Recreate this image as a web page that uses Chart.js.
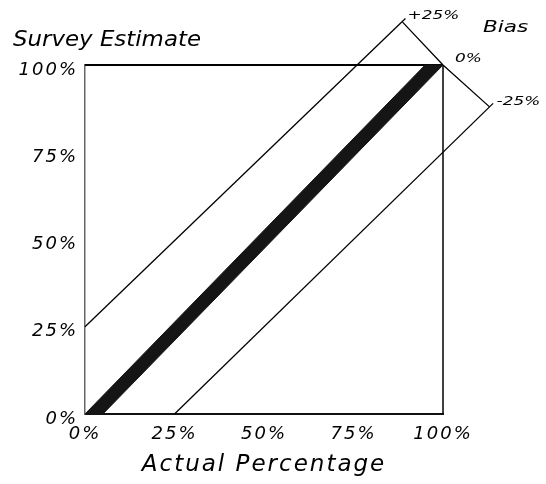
<!DOCTYPE html>
<html>
<head>
<meta charset="utf-8">
<script src="https://cdn.jsdelivr.net/npm/chart.js@4.4.1/dist/chart.umd.min.js"></script>
<style>
  html, body { margin: 0; padding: 0; background: #fff; }
  canvas { display: block; }
</style>
</head>
<body>
<canvas id="chart" width="546" height="484"></canvas>
<script>
// axis ticks (both axes are 0..100 %)
var tickValues = [0, 25, 50, 75, 100];
var tickLabels = ['0%', '25%', '50%', '75%', '100%'];

// thick "no bias" band, corners of the shape
var bandX = [0, 5, 100, 95, 0];
var bandY = [0, 0, 100, 100, 0];

// +25% and -25% bias lines (they stop a bit past the cross line)
var plusX = [0, 89.5];
var plusY = [25, 113.3];
var minusX = [25, 114];
var minusY = [0, 89];

// the cross line at top right, with its labels
// (kept right to left, so chart.js does not drop the point past the axis max)
var crossX = [113, 100, 88.7];
var crossY = [88, 100, 112.3];
var biasLabels = ['-25%', '0%', '+25%'];

function pts(xs, ys) {
  return xs.map((x, i) => ({ x: x, y: ys[i] }));
}

var FONT = 'DejaVu Sans';

// spacing out the letters, the original lettering is very wide
var spacing = {
  id: 'spacing',
  beforeDraw(chart) { chart.ctx.letterSpacing = '2px'; }
};

// top and right side of the box
var frame = {
  id: 'frame',
  beforeDatasetsDraw(chart) {
    var ctx = chart.ctx, a = chart.chartArea;
    ctx.save();
    ctx.strokeStyle = '#000';
    ctx.lineWidth = 2;
    ctx.beginPath();
    ctx.moveTo(a.left, a.top);
    ctx.lineTo(a.right, a.top);
    ctx.stroke();
    ctx.lineWidth = 1.5;
    ctx.beginPath();
    ctx.moveTo(a.right, a.top);
    ctx.lineTo(a.right, a.bottom);
    ctx.stroke();
    ctx.restore();
  }
};

// text stretched sideways, like the wide lettering of the original
function wideText(ctx, txt, x, y, sx) {
  ctx.save();
  ctx.translate(x, y);
  ctx.scale(sx, 1);
  ctx.fillText(txt, 0, 0);
  ctx.restore();
}

// free texts: y title, "Bias" and the labels on the cross line
var texts = {
  id: 'texts',
  afterDraw(chart) {
    var ctx = chart.ctx, a = chart.chartArea;
    var sx = chart.scales.x, sy = chart.scales.y;
    ctx.save();
    ctx.fillStyle = '#000';
    ctx.textAlign = 'left';
    ctx.textBaseline = 'middle';
    ctx.letterSpacing = '0px';

    ctx.font = 'italic 21px "' + FONT + '"';
    wideText(ctx, 'Survey Estimate', 13, a.top - 24, 1.09);

    ctx.font = 'italic 16px "' + FONT + '"';
    wideText(ctx, 'Bias', a.right + 40, 28, 1.35);

    ctx.font = 'italic 13px "' + FONT + '"';
    var offs = [[7, -5], [12, -6], [5, -6]];
    biasLabels.forEach((lbl, i) => {
      var px = sx.getPixelForValue(crossX[i]);
      var py = sy.getPixelForValue(crossY[i]);
      wideText(ctx, lbl, px + offs[i][0], py + offs[i][1], 1.3);
    });
    ctx.restore();
  }
};

var lineDs = (xs, ys) => ({
  data: pts(xs, ys),
  showLine: true,
  borderColor: '#000',
  borderWidth: 1.3,
  pointRadius: 0,
  fill: false,
  clip: false
});

var tickFont = { family: FONT, size: 18, style: 'italic' };

new Chart(document.getElementById('chart'), {
  type: 'scatter',
  data: {
    datasets: [
      {
        data: pts(bandX, bandY),
        showLine: true,
        borderColor: '#151515',
        borderWidth: 1,
        backgroundColor: '#151515',
        pointRadius: 0,
        fill: 'shape',
        clip: false
      },
      lineDs(plusX, plusY),
      lineDs(minusX, minusY),
      lineDs(crossX, crossY)
    ]
  },
  options: {
    responsive: false,
    animation: false,
    events: [],
    layout: { padding: { top: 65, right: 103, left: 0, bottom: 0 } },
    plugins: { legend: { display: false }, tooltip: { enabled: false } },
    scales: {
      x: {
        type: 'linear',
        min: 0, max: 100,
        afterBuildTicks: (s) => { s.ticks = tickValues.map(v => ({ value: v })); },
        afterFit: (s) => { s.height = 70; },
        grid: { display: false, drawTicks: false },
        border: { display: true, color: '#111', width: 2 },
        ticks: {
          color: '#000', font: tickFont, padding: 10, maxRotation: 0,
          callback: (v) => tickLabels[tickValues.indexOf(v)]
        },
        title: {
          display: true, text: 'Actual Percentage', color: '#000',
          font: { family: FONT, size: 23, style: 'italic' },
          padding: { top: 0, bottom: 5 }
        }
      },
      y: {
        type: 'linear',
        min: 0, max: 100,
        afterBuildTicks: (s) => { s.ticks = tickValues.map(v => ({ value: v })); },
        afterFit: (s) => { s.width = 85; },
        grid: { display: false, drawTicks: false },
        border: { display: true, color: '#666', width: 1.5 },
        ticks: {
          color: '#000', font: tickFont, padding: 7, labelOffset: 5,
          callback: (v) => tickLabels[tickValues.indexOf(v)]
        }
      }
    }
  },
  plugins: [spacing, frame, texts]
});
</script>
</body>
</html>
